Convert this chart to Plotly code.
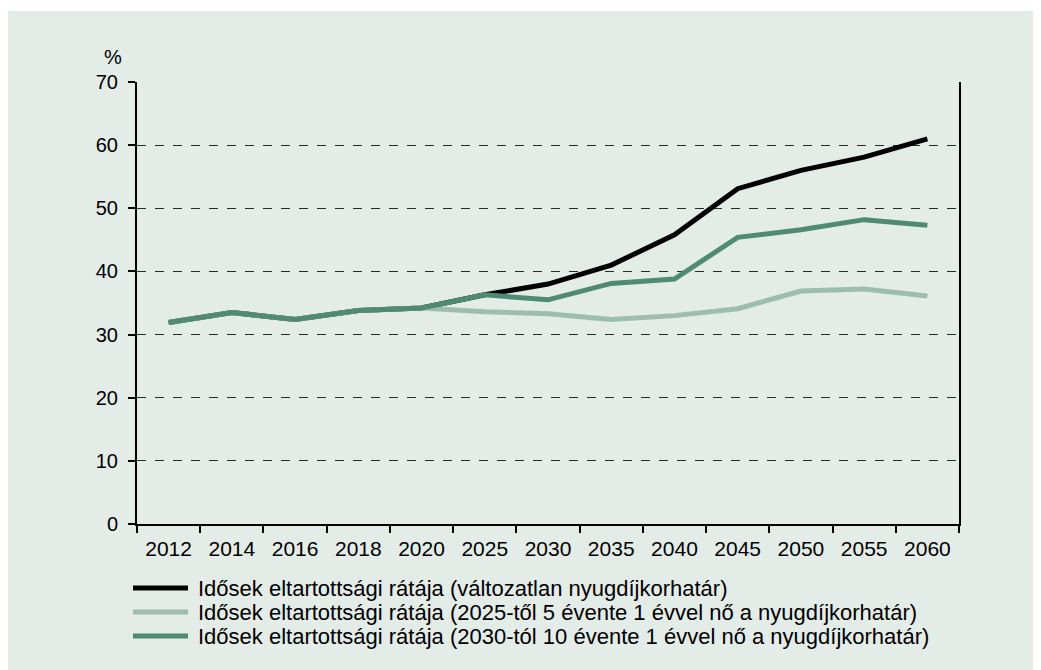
import plotly.graph_objects as go

years = ['2012', '2014', '2016', '2018', '2020', '2025', '2030',
         '2035', '2040', '2045', '2050', '2055', '2060']

unchanged = [31.9, 33.5, 32.4, 33.8, 34.2, 36.3, 38.0, 41.0, 45.8, 53.1, 56.0, 58.1, 61.0]
from_2025 = [31.9, 33.5, 32.4, 33.8, 34.2, 33.6, 33.3, 32.4, 33.0, 34.1, 36.9, 37.2, 36.1]
from_2030 = [31.9, 33.5, 32.4, 33.8, 34.2, 36.3, 35.5, 38.1, 38.8, 45.4, 46.6, 48.2, 47.3]

names = [
    'Idősek eltartottsági rátája (változatlan nyugdíjkorhatár)',
    'Idősek eltartottsági rátája (2025-től 5 évente 1 évvel nő a nyugdíjkorhatár)',
    'Idősek eltartottsági rátája (2030-tól 10 évente 1 évvel nő a nyugdíjkorhatár)',
]
colors = ['#000000', '#9dbdb0', '#4e8a75']
series = [unchanged, from_2025, from_2030]

bg = '#e4ece8'
font = 'Liberation Sans, Arial, sans-serif'

# figure sits 8px in from the window corner; plot area edges in figure px
FW, FH = 1033, 662
L, R, T, B = 129, 82, 74, 146
W, H = FW - L - R, FH - T - B


def px_x(x):
    return (x - 8 - L) / W


def px_y(y):
    return (FH - B - (y - 8)) / H


fig = go.Figure()
for name, vals, col in zip(names, series, colors):
    fig.add_trace(go.Scatter(x=years, y=vals, name=name, mode='lines',
                             line=dict(color=col, width=5)))

# thin white strip on top: the grey panel starts a few px lower in the original
shapes = [dict(type='rect', xref='paper', yref='paper', layer='below', line_width=0,
               fillcolor='white', x0=px_x(0), x1=px_x(1041), y0=px_y(11), y1=px_y(0))]
annotations = [dict(text='%', xref='paper', yref='paper', x=px_x(113), y=px_y(57),
                    showarrow=False, xanchor='center', yanchor='middle',
                    font=dict(size=20, color='black', family=font))]
# hand-made legend so the sample lines are as long as in the original
for i, (name, col) in enumerate(zip(names, colors)):
    yp = px_y(588 + 24 * i)
    shapes.append(dict(type='line', xref='paper', yref='paper',
                       x0=px_x(133), x1=px_x(188), y0=yp, y1=yp,
                       line=dict(color=col, width=5)))
    annotations.append(dict(text=name, xref='paper', yref='paper', x=px_x(196), y=yp,
                            showarrow=False, xanchor='left', yanchor='middle',
                            font=dict(size=22, color='black', family=font)))

fig.update_layout(
    width=FW, height=FH,
    margin=dict(l=L, r=R, t=T, b=B),
    paper_bgcolor=bg, plot_bgcolor=bg,
    showlegend=False,
    font=dict(family=font, size=20, color='black'),
    shapes=shapes, annotations=annotations,
    xaxis=dict(type='category', range=[-0.5, len(years) - 0.5], tickson='boundaries',
               ticks='outside', ticklen=7, tickwidth=2, tickcolor='black',
               showline=True, linewidth=2, linecolor='black', showgrid=False,
               ticklabelstandoff=5, tickfont=dict(size=21)),
    yaxis=dict(range=[0, 70], dtick=10, ticks='outside', ticklen=7, tickwidth=2,
               tickcolor='black', showline=True, linewidth=2, linecolor='black',
               mirror=True, showgrid=True, gridcolor='#2a2a2a', gridwidth=1,
               griddash='dash', zeroline=False, ticklabelstandoff=6,
               tickfont=dict(size=20)),
)

fig.write_html("out.html")
